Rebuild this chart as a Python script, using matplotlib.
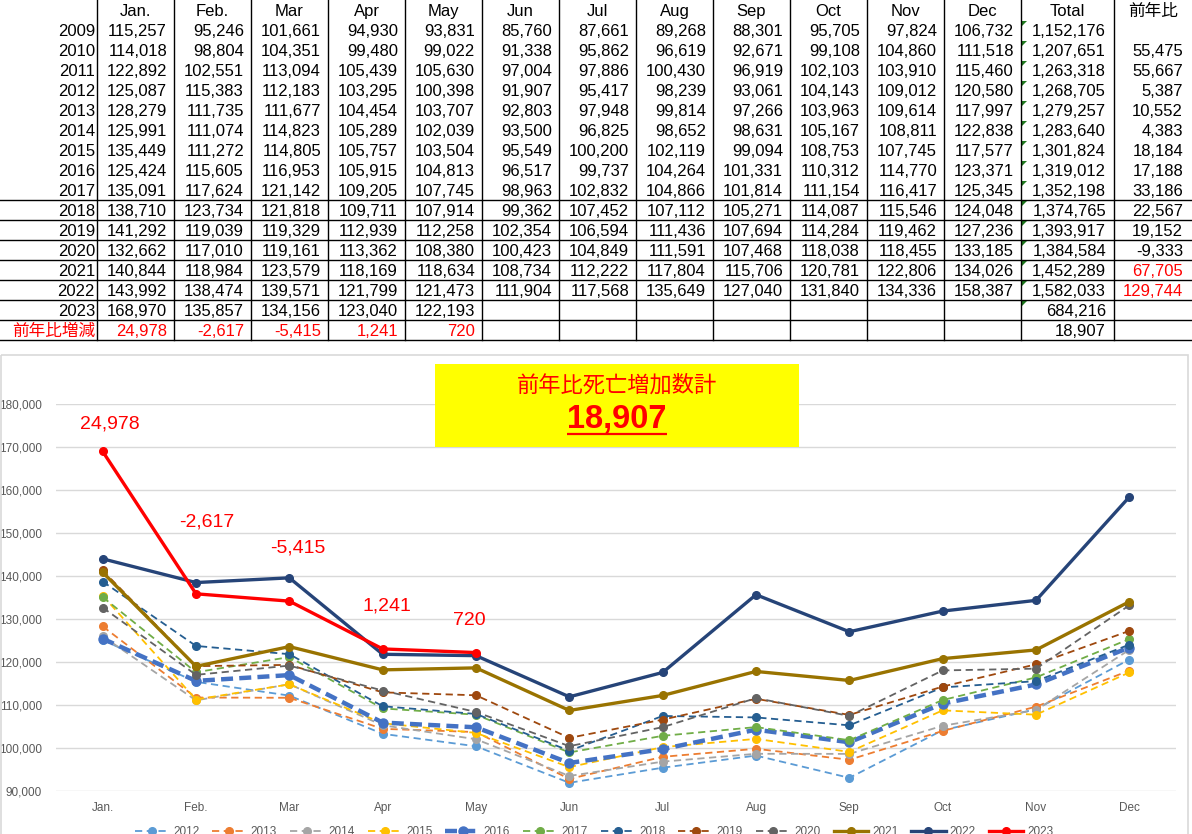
import matplotlib
matplotlib.use("Agg")
import matplotlib.pyplot as plt
from matplotlib.patches import Rectangle, Polygon
from matplotlib.ticker import FuncFormatter

plt.rcParams['font.family'] = ['Liberation Sans', 'Noto Sans CJK JP', 'DejaVu Sans']

# ---------------- data ----------------
months = ["Jan.", "Feb.", "Mar", "Apr", "May", "Jun", "Jul", "Aug", "Sep", "Oct", "Nov", "Dec"]
years = list(range(2009, 2024))

d2009 = [115257, 95246, 101661, 94930, 93831, 85760, 87661, 89268, 88301, 95705, 97824, 106732]
d2010 = [114018, 98804, 104351, 99480, 99022, 91338, 95862, 96619, 92671, 99108, 104860, 111518]
d2011 = [122892, 102551, 113094, 105439, 105630, 97004, 97886, 100430, 96919, 102103, 103910, 115460]
d2012 = [125087, 115383, 112183, 103295, 100398, 91907, 95417, 98239, 93061, 104143, 109012, 120580]
d2013 = [128279, 111735, 111677, 104454, 103707, 92803, 97948, 99814, 97266, 103963, 109614, 117997]
d2014 = [125991, 111074, 114823, 105289, 102039, 93500, 96825, 98652, 98631, 105167, 108811, 122838]
d2015 = [135449, 111272, 114805, 105757, 103504, 95549, 100200, 102119, 99094, 108753, 107745, 117577]
d2016 = [125424, 115605, 116953, 105915, 104813, 96517, 99737, 104264, 101331, 110312, 114770, 123371]
d2017 = [135091, 117624, 121142, 109205, 107745, 98963, 102832, 104866, 101814, 111154, 116417, 125345]
d2018 = [138710, 123734, 121818, 109711, 107914, 99362, 107452, 107112, 105271, 114087, 115546, 124048]
d2019 = [141292, 119039, 119329, 112939, 112258, 102354, 106594, 111436, 107694, 114284, 119462, 127236]
d2020 = [132662, 117010, 119161, 113362, 108380, 100423, 104849, 111591, 107468, 118038, 118455, 133185]
d2021 = [140844, 118984, 123579, 118169, 118634, 108734, 112222, 117804, 115706, 120781, 122806, 134026]
d2022 = [143992, 138474, 139571, 121799, 121473, 111904, 117568, 135649, 127040, 131840, 134336, 158387]
d2023 = [168970, 135857, 134156, 123040, 122193]

totals = [1152176, 1207651, 1263318, 1268705, 1279257, 1283640, 1301824, 1319012,
          1352198, 1374765, 1393917, 1384584, 1452289, 1582033, 684216]
yoy = [None, 55475, 55667, 5387, 10552, 4383, 18184, 17188,
       33186, 22567, 19152, -9333, 67705, 129744, None]
yoy_red_years = [2021, 2022]

diff_2023 = [24978, -2617, -5415, 1241, 720]
diff_total = 18907

header_total = "Total"
header_yoy = "前年比"
diff_row_label = "前年比増減"
box_title = "前年比死亡増加数計"

chart_years = list(range(2012, 2024))

monthly = {2009: d2009, 2010: d2010, 2011: d2011, 2012: d2012, 2013: d2013,
           2014: d2014, 2015: d2015, 2016: d2016, 2017: d2017, 2018: d2018,
           2019: d2019, 2020: d2020, 2021: d2021, 2022: d2022, 2023: d2023}

# ---------------- styles ----------------
series_style = {
    2012: dict(color='#5B9BD5', ls=(0, (4, 2.5)), lw=1.3, ms=5.5),
    2013: dict(color='#ED7D31', ls=(0, (4, 2.5)), lw=1.3, ms=5.5),
    2014: dict(color='#A5A5A5', ls=(0, (4, 2.5)), lw=1.3, ms=5.5),
    2015: dict(color='#FFC000', ls=(0, (4, 2.5)), lw=1.3, ms=5.5),
    2016: dict(color='#4472C4', ls=(0, (2.7, 1.4)), lw=3.2, ms=6.5),
    2017: dict(color='#70AD47', ls=(0, (4, 2.5)), lw=1.3, ms=5.5),
    2018: dict(color='#255E91', ls=(0, (4, 2.5)), lw=1.3, ms=5.5),
    2019: dict(color='#9E480E', ls=(0, (4, 2.5)), lw=1.3, ms=5.5),
    2020: dict(color='#636363', ls=(0, (4, 2.5)), lw=1.3, ms=5.5),
    2021: dict(color='#997300', ls='-', lw=2.4, ms=5.5),
    2022: dict(color='#264478', ls='-', lw=2.4, ms=5.5),
    2023: dict(color='#FF0000', ls='-', lw=2.4, ms=5.5),
}
label_offsets = [(5, 19.5), (8, 52), (6, 38), (3, 31), (-5, 23)]  # points

RED = '#FF0000'
GRID = '#D9D9D9'
TICK = '#595959'

W, H = 1192, 834
fig = plt.figure(figsize=(W / 100, H / 100), dpi=100)

# ---------------- chart ----------------
ax = fig.add_axes([56 / W, (H - 791) / H, 1120 / W, 387 / H])
x = list(range(12))
handles = []
for yr in chart_years:
    vals = monthly[yr]
    st = series_style[yr]
    ln, = ax.plot(x[:len(vals)], vals, color=st['color'], linestyle=st['ls'],
                  linewidth=st['lw'], marker='o', markersize=st['ms'],
                  markerfacecolor=st['color'], markeredgecolor=st['color'],
                  label=str(yr))
    handles.append(ln)

for i, d in enumerate(diff_2023):
    ax.annotate(f"{d:,}", xy=(x[i], d2023[i]), xytext=label_offsets[i],
                textcoords='offset points', ha='center', va='center',
                color=RED, fontsize=14)

ax.set_xlim(-0.5, 11.5)
ax.set_ylim(90000, 180000)
ax.set_yticks(range(90000, 180001, 10000))
ax.yaxis.set_major_formatter(FuncFormatter(lambda v, p: f"{int(v):,}"))
ax.set_xticks(x)
ax.set_xticklabels(months)
ax.tick_params(axis='both', length=0, labelsize=8.5, labelcolor=TICK)
ax.tick_params(axis='x', pad=8)
ax.tick_params(axis='y', pad=10)
ax.yaxis.grid(True, color=GRID, linewidth=1)
ax.set_axisbelow(True)
for s in ax.spines.values():
    s.set_visible(False)
ax.patch.set_visible(False)

fig.legend(handles=handles, loc='center', bbox_to_anchor=(594 / W, (H - 832) / H),
           ncol=12, frameon=False, fontsize=8.5, labelcolor=TICK,
           handlelength=2.9, handletextpad=0.35, columnspacing=1.1, numpoints=1)

# ---------------- overlay (table, frame, box) ----------------
ov = fig.add_axes([0, 0, 1, 1], zorder=3)
ov.set_xlim(0, W)
ov.set_ylim(H, 0)
ov.axis('off')

# chart frame
ov.add_patch(Rectangle((1, 355), 1187, 500, fill=False, edgecolor=GRID, lw=1.2))

# table geometry
col_edges = [0, 97] + [97 + 77 * (i + 1) for i in range(12)] + [1114, 1192]
row_h = 20
n_rows = len(years) + 2
table_bottom = n_rows * row_h

for xe in col_edges[1:-1]:
    ov.plot([xe, xe], [0, table_bottom], color='black', lw=1.0)
for r in range(10, n_rows + 1):
    ov.plot([0, W], [r * row_h, r * row_h], color='black', lw=1.0)

def cy(r):
    return r * row_h + 11

FS = 12
headers = months + [header_total, header_yoy]
for j, h in enumerate(headers):
    xc = (col_edges[j + 1] + col_edges[j + 2]) / 2
    ov.text(xc, cy(0), h, ha='center', va='center', fontsize=FS, color='black')

for i, yr in enumerate(years):
    r = i + 1
    ov.text(col_edges[1] - 2, cy(r), str(yr), ha='right', va='center', fontsize=FS)
    for j, v in enumerate(monthly[yr]):
        ov.text(col_edges[j + 2] - 7, cy(r), f"{v:,}", ha='right', va='center', fontsize=FS)
    ov.text(col_edges[14] - 8, cy(r), f"{totals[i]:,}", ha='right', va='center', fontsize=FS)
    if yoy[i] is not None:
        c = RED if yr in yoy_red_years else 'black'
        ov.text(col_edges[15] - 9, cy(r), f"{yoy[i]:,}", ha='right', va='center',
                fontsize=FS, color=c)
    # Excel green error-indicator triangle
    y0 = r * row_h
    ov.add_patch(Polygon([(col_edges[13] + 1, y0 + 1), (col_edges[13] + 6, y0 + 1),
                          (col_edges[13] + 1, y0 + 6)], closed=True,
                         facecolor='#1F7A1F', edgecolor='none'))

r = n_rows - 1
ov.text(col_edges[1] - 2, cy(r), diff_row_label, ha='right', va='center', fontsize=FS, color=RED)
for j, v in enumerate(diff_2023):
    ov.text(col_edges[j + 2] - 7, cy(r), f"{v:,}", ha='right', va='center', fontsize=FS, color=RED)
ov.text(col_edges[14] - 8, cy(r), f"{diff_total:,}", ha='right', va='center', fontsize=FS)

# yellow summary box
ov.add_patch(Rectangle((435, 364), 364, 83, facecolor='#FFFF00', edgecolor='none'))
ov.text(617, 386, box_title, ha='center', va='center', fontsize=16, color=RED)
big = ov.text(617, 419, f"{diff_total:,}", ha='center', va='center', fontsize=23.5,
              fontweight='bold', color=RED)
fig.canvas.draw()
bb = big.get_window_extent(renderer=fig.canvas.get_renderer())
ov.plot([bb.x0, bb.x1], [434, 434], color=RED, lw=1.6, solid_capstyle='butt')

fig.savefig("out.png", dpi=100)
